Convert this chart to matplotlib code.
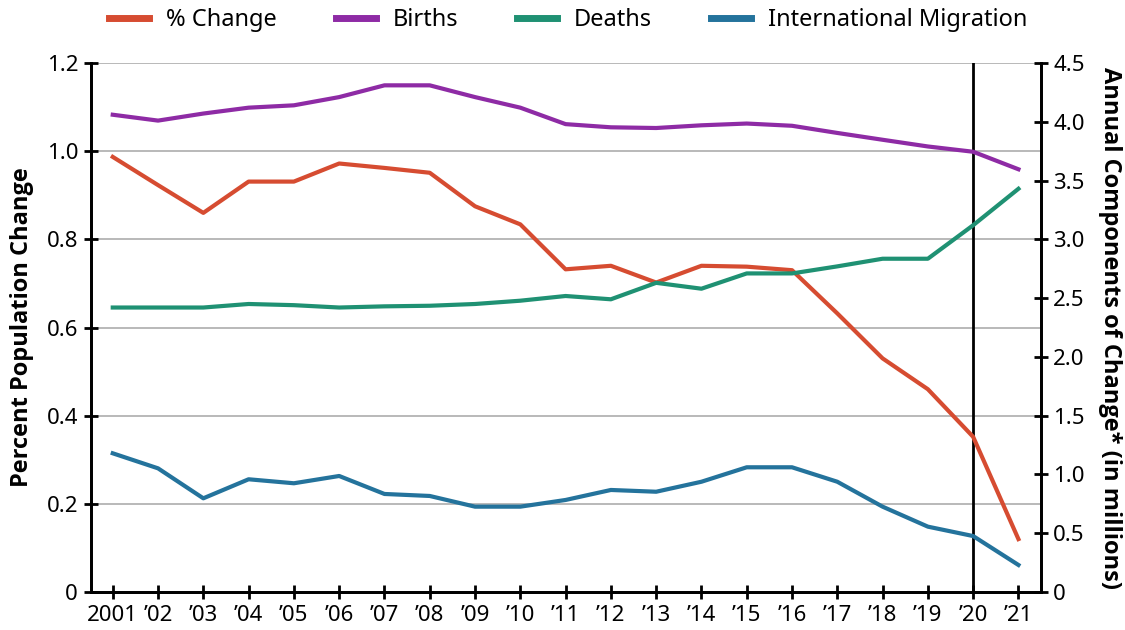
import matplotlib
matplotlib.use("Agg")
import matplotlib.pyplot as plt
from matplotlib import font_manager

plt.rcParams["font.family"] = ["Noto Sans", "DejaVu Sans"]

years = list(range(2001, 2022))
year_labels = ["2001"] + [f"\u2019{y % 100:02d}" for y in years[1:]]

# percent population change (left axis)
pct_change = [0.987, 0.923, 0.860, 0.931, 0.931, 0.972, 0.962, 0.951, 0.875, 0.834,
              0.732, 0.740, 0.702, 0.740, 0.738, 0.730, 0.632, 0.530, 0.460, 0.352, 0.120]

# components of change, millions (right axis)
births = [4.06, 4.01, 4.07, 4.12, 4.14, 4.21, 4.31, 4.31, 4.21, 4.12,
          3.98, 3.953, 3.947, 3.97, 3.985, 3.966, 3.905, 3.847, 3.79, 3.745, 3.596]
deaths = [2.42, 2.42, 2.42, 2.45, 2.44, 2.42, 2.43, 2.435, 2.45, 2.478,
          2.518, 2.49, 2.63, 2.58, 2.71, 2.71, 2.77, 2.835, 2.835, 3.12, 3.43]
migration = [1.18, 1.052, 0.797, 0.959, 0.925, 0.987, 0.834, 0.817, 0.726, 0.726,
             0.783, 0.868, 0.853, 0.938, 1.061, 1.061, 0.938, 0.726, 0.556, 0.476, 0.23]

RED = "#d64c31"
PURPLE = "#8e2ba5"
GREEN = "#1f9173"
BLUE = "#24739c"


def heavy_font():
    # first family that ships a semibold/bold face, for the axis titles
    for fam in ["Noto Sans", "Open Sans", "Roboto", "Lato", "Inter"]:
        for f in font_manager.fontManager.ttflist:
            w = f.weight if isinstance(f.weight, int) else font_manager.weight_dict.get(f.weight, 400)
            if f.name == fam and f.style == "normal" and 600 <= w <= 700:
                return font_manager.FontProperties(fname=f.fname)
    return font_manager.FontProperties(family="DejaVu Sans", weight="bold")


fig = plt.figure(figsize=(11.25, 6.3), dpi=100)
ax = fig.add_axes([0.0805, 0.0603, 0.8445, 0.8397])
ax2 = ax.twinx()

ax.set_xlim(2000.51, 2021.49)
ax.set_ylim(0, 1.2)
ax2.set_ylim(0, 4.5)

ax.set_yticks([0, 0.2, 0.4, 0.6, 0.8, 1.0, 1.2])
ax.set_yticklabels(["0", "0.2", "0.4", "0.6", "0.8", "1.0", "1.2"])
ax2.set_yticks([0, 0.5, 1.0, 1.5, 2.0, 2.5, 3.0, 3.5, 4.0, 4.5])
ax2.set_yticklabels(["0", "0.5", "1.0", "1.5", "2.0", "2.5", "3.0", "3.5", "4.0", "4.5"])
ax.set_xticks(years)
ax.set_xticklabels(year_labels)

ax.grid(axis="y", color="#b3b3b3", linewidth=1.3)
ax.set_axisbelow(True)

for a in (ax, ax2):
    a.spines["top"].set_visible(False)
    for s in ("left", "right", "bottom"):
        a.spines[s].set_linewidth(2)
    a.tick_params(direction="inout", length=10, width=2, labelsize=16, colors="black")
ax.tick_params(axis="x", pad=4)
ax.tick_params(axis="y", pad=4)
ax2.tick_params(axis="y", pad=4)

ax.axvline(2020, color="black", linewidth=2, zorder=1)

l1, = ax.plot(years, pct_change, color=RED, linewidth=3, label="% Change", zorder=3)
l2, = ax2.plot(years, births, color=PURPLE, linewidth=3, label="Births")
l3, = ax2.plot(years, deaths, color=GREEN, linewidth=3, label="Deaths")
l4, = ax2.plot(years, migration, color=BLUE, linewidth=3, label="International Migration")

title_font = heavy_font()
title_font.set_size(17)
ax.set_ylabel("Percent Population Change", fontproperties=title_font, labelpad=9)
ax2.set_ylabel("Annual Components of Change* (in millions)", fontproperties=title_font,
               rotation=270, labelpad=27)

leg = fig.legend(handles=[l1, l2, l3, l4], loc="center", bbox_to_anchor=(0.505, 0.968),
                 ncol=4, frameon=False, fontsize=17, handlelength=1.7, handletextpad=0.7,
                 columnspacing=2.5)
for h in leg.get_lines():
    h.set_linewidth(5)

fig.savefig("out.png", dpi=100)
